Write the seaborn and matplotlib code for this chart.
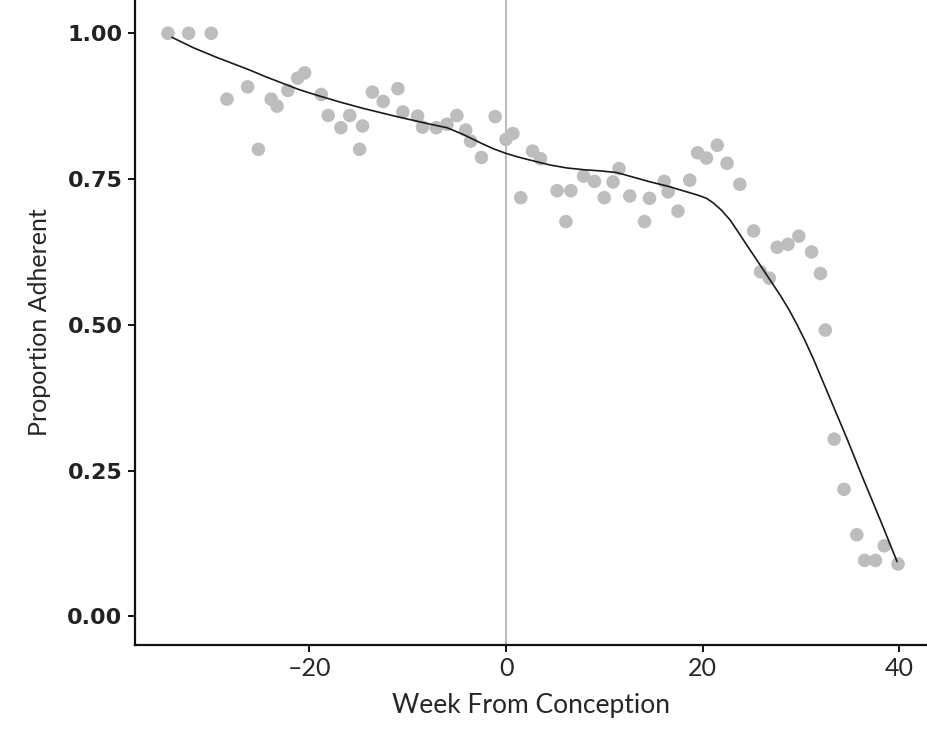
import numpy as np
import pandas as pd
import matplotlib
matplotlib.use("Agg")
import matplotlib.pyplot as plt
import seaborn as sns

# weekly adherence points
week = [-34.4, -32.3, -30.0, -28.4, -26.3, -25.2, -23.9, -23.3, -22.2, -21.2,
        -20.5, -18.8, -18.1, -16.8, -15.9, -14.9, -14.6, -13.6, -12.5, -11.0,
        -10.5, -9.0, -8.5, -7.1, -6.0, -5.0, -4.1, -3.6, -2.5, -1.1,
        0.0, 0.7, 1.5, 2.7, 3.5, 5.2, 6.1, 6.6, 7.9, 9.0,
        10.0, 10.9, 11.5, 12.6, 14.1, 14.6, 16.1, 16.5, 17.5, 18.7,
        19.5, 20.4, 21.5, 22.5, 23.8, 25.2, 25.9, 26.8, 27.6, 28.7,
        29.8, 31.1, 32.0, 32.5, 33.4, 34.4, 35.7, 36.5, 37.6, 38.5, 39.9]
adherent = [1.000, 1.000, 1.000, 0.887, 0.908, 0.801, 0.887, 0.875, 0.902, 0.923,
            0.932, 0.895, 0.859, 0.838, 0.859, 0.801, 0.841, 0.899, 0.883, 0.905,
            0.865, 0.858, 0.839, 0.838, 0.844, 0.859, 0.834, 0.815, 0.787, 0.857,
            0.818, 0.828, 0.718, 0.798, 0.785, 0.730, 0.677, 0.730, 0.755, 0.746,
            0.718, 0.745, 0.768, 0.721, 0.677, 0.717, 0.746, 0.728, 0.695, 0.748,
            0.795, 0.786, 0.808, 0.777, 0.741, 0.661, 0.591, 0.580, 0.633, 0.638,
            0.652, 0.625, 0.588, 0.491, 0.304, 0.218, 0.140, 0.096, 0.096, 0.121, 0.090]

# smoothed trend line
curve_week = [-34.0, -31.8, -29.5, -27.8, -26.1, -24.4, -22.7, -21.0, -19.3, -16.9,
              -14.5, -11.1, -7.7, -6.0, -4.3, -2.6, -1.3, 0.0, 1.4, 2.8,
              4.5, 6.2, 7.9, 9.6, 11.3, 13.0, 14.7, 16.4, 18.0, 19.6,
              20.4, 21.1, 21.9, 22.8, 23.6, 24.5, 26.2, 27.9, 28.8, 29.6,
              30.4, 31.3, 33.0, 34.7, 36.4, 38.1, 39.8]
curve_prop = [0.993, 0.975, 0.959, 0.948, 0.937, 0.925, 0.914, 0.903, 0.894, 0.882,
              0.871, 0.857, 0.844, 0.838, 0.826, 0.812, 0.802, 0.794, 0.787, 0.781,
              0.774, 0.769, 0.766, 0.764, 0.761, 0.753, 0.745, 0.738, 0.730, 0.722,
              0.717, 0.709, 0.697, 0.680, 0.660, 0.637, 0.594, 0.551, 0.526, 0.501,
              0.474, 0.441, 0.373, 0.305, 0.234, 0.165, 0.094]

x_ticks = [-20, 0, 20, 40]
y_ticks = [0.00, 0.25, 0.50, 0.75, 1.00]

pts = pd.DataFrame({"week": week, "adherent": adherent})
trend = pd.DataFrame({"week": curve_week, "prop": curve_prop})

sns.set_style("white")
fig = plt.figure(figsize=(9.28, 7.36), dpi=100)
ax = fig.add_axes([135 / 928, 91 / 736, 1 - 135 / 928, 1 - 91 / 736])

ax.axvline(0, color="#b4b4b4", lw=1.3, zorder=1)
sns.scatterplot(data=pts, x="week", y="adherent", ax=ax, color="#bdbdc0",
                s=95, edgecolor="none", zorder=2)
sns.lineplot(data=trend, x="week", y="prop", ax=ax, color="#1a1a1a",
             lw=1.2, zorder=3)
ax.lines[-1].set_solid_joinstyle("round")

ax.set_xlim(-37.76, 42.95)
ax.set_ylim(-0.049, 1.057)
ax.set_xticks(x_ticks)
ax.set_xticklabels(["\u201320", "0", "20", "40"], fontfamily="Lato", fontsize=18)
ax.set_yticks(y_ticks)
ax.set_yticklabels([f"{v:.2f}" for v in y_ticks], fontfamily="DejaVu Sans",
                   fontweight="bold", fontsize=16, color="#222222")

for side in ["top", "right"]:
    ax.spines[side].set_visible(False)
for side in ["left", "bottom"]:
    ax.spines[side].set_color("#111111")
    ax.spines[side].set_linewidth(1.6)
ax.tick_params(axis="both", length=5, width=1.4, color="#111111", pad=4,
               left=True, bottom=True)

ax.set_xlabel("Week From Conception", fontfamily="Lato", fontsize=19, labelpad=9)
ax.set_ylabel("Proportion Adherent", fontfamily="Lato", fontsize=18, labelpad=12)

fig.savefig("out.png", dpi=100)
